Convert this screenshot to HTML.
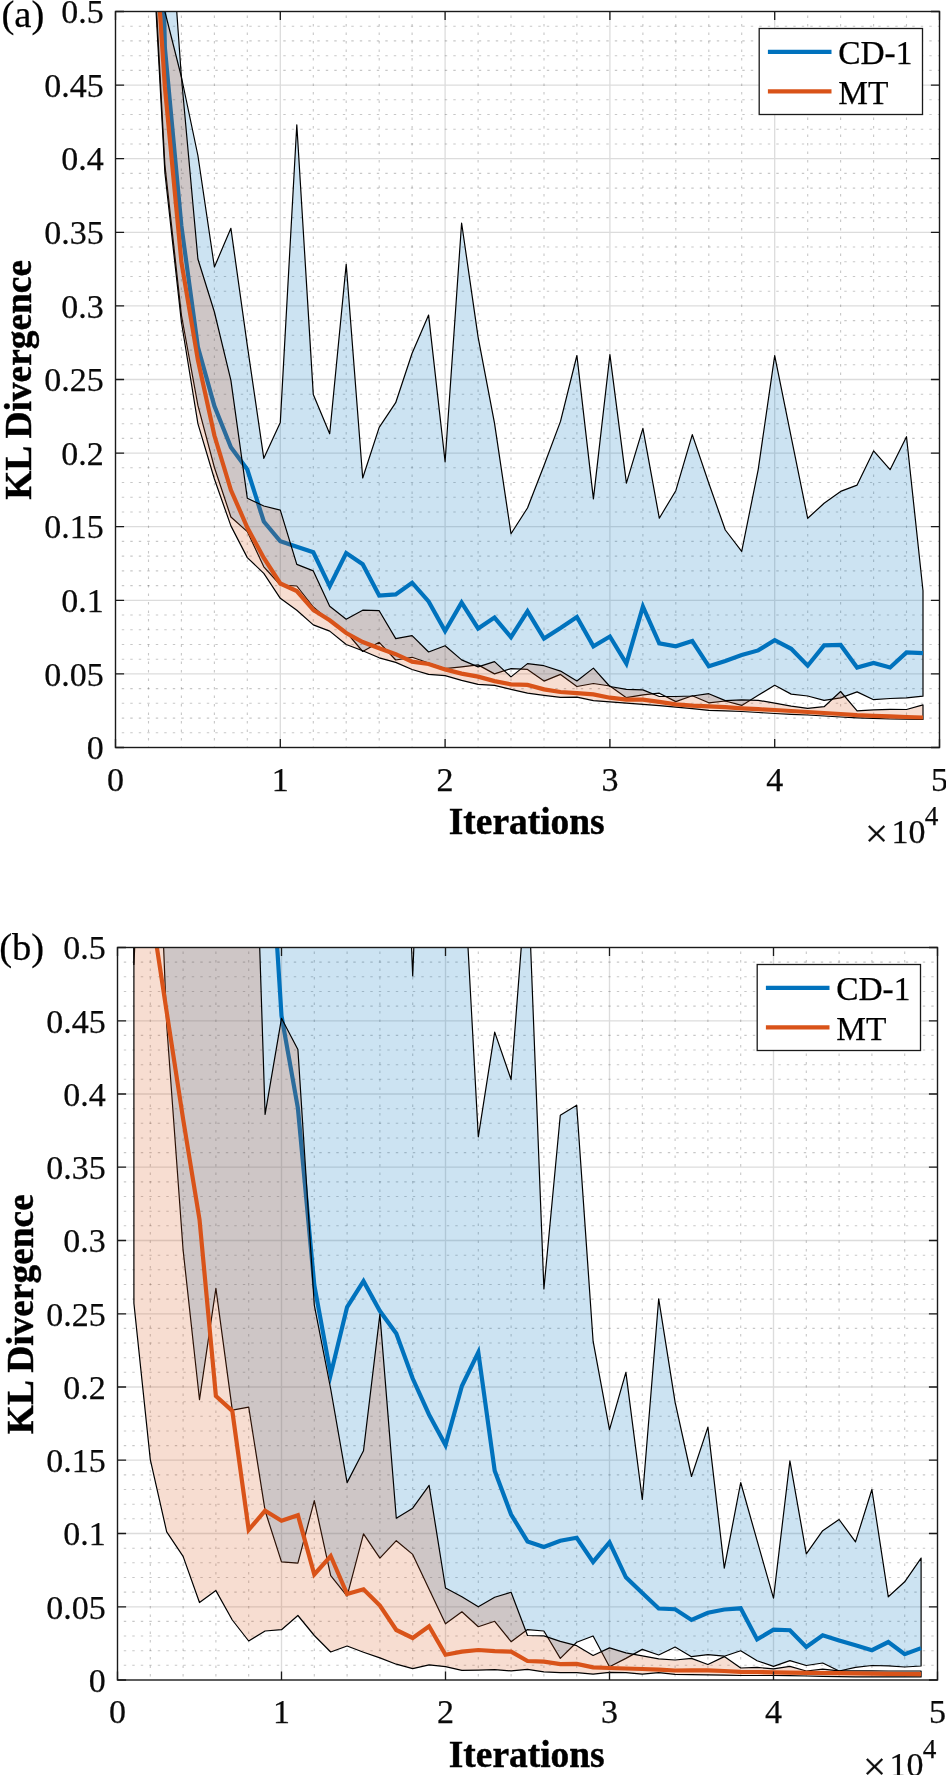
<!DOCTYPE html>
<html lang="en">
<head>
<meta charset="utf-8">
<title>KL Divergence vs Iterations</title>
<style>
html,body{margin:0;padding:0;background:#fff}
body{width:946px;height:1775px;overflow:hidden}
svg{display:block;will-change:transform}
</style>
</head>
<body>
<svg width="946" height="1775" viewBox="0 0 946 1775">
<rect width="946" height="1775" fill="#fff"/>
<clipPath id="clip1"><rect x="115.5" y="11.5" width="824" height="736"/></clipPath>
<path d="M148.5 11.5V747.5M181.4 11.5V747.5M214.4 11.5V747.5M247.3 11.5V747.5M313.3 11.5V747.5M346.2 11.5V747.5M379.2 11.5V747.5M412.1 11.5V747.5M478.1 11.5V747.5M511 11.5V747.5M544 11.5V747.5M576.9 11.5V747.5M642.9 11.5V747.5M675.8 11.5V747.5M708.8 11.5V747.5M741.7 11.5V747.5M807.7 11.5V747.5M840.6 11.5V747.5M873.6 11.5V747.5M906.5 11.5V747.5" fill="none" stroke="#262626" stroke-opacity=".26" stroke-width="1.1" stroke-dasharray="2.4 6.1" stroke-dashoffset="4.5"/>
<path d="M115.5 26.2H939.5M115.5 40.9H939.5M115.5 55.7H939.5M115.5 70.4H939.5M115.5 99.8H939.5M115.5 114.5H939.5M115.5 129.3H939.5M115.5 144H939.5M115.5 173.4H939.5M115.5 188.1H939.5M115.5 202.9H939.5M115.5 217.6H939.5M115.5 247H939.5M115.5 261.7H939.5M115.5 276.5H939.5M115.5 291.2H939.5M115.5 320.6H939.5M115.5 335.3H939.5M115.5 350.1H939.5M115.5 364.8H939.5M115.5 394.2H939.5M115.5 408.9H939.5M115.5 423.7H939.5M115.5 438.4H939.5M115.5 467.8H939.5M115.5 482.5H939.5M115.5 497.3H939.5M115.5 512H939.5M115.5 541.4H939.5M115.5 556.1H939.5M115.5 570.9H939.5M115.5 585.6H939.5M115.5 615H939.5M115.5 629.7H939.5M115.5 644.5H939.5M115.5 659.2H939.5M115.5 688.6H939.5M115.5 703.3H939.5M115.5 718.1H939.5M115.5 732.8H939.5" fill="none" stroke="#262626" stroke-opacity=".26" stroke-width="1.1" stroke-dasharray="2.4 6.1" stroke-dashoffset="2.2"/>
<path d="M280.3 11.5V747.5M445.1 11.5V747.5M609.9 11.5V747.5M774.7 11.5V747.5M115.5 85.1H939.5M115.5 158.7H939.5M115.5 232.3H939.5M115.5 305.9H939.5M115.5 379.5H939.5M115.5 453.1H939.5M115.5 526.7H939.5M115.5 600.3H939.5M115.5 673.9H939.5" fill="none" stroke="#262626" stroke-opacity=".16" stroke-width="1.3"/>
<g clip-path="url(#clip1)" stroke-linejoin="miter" stroke-miterlimit="10">
<polygon points="132,-3000 148.5,-800 164.9,-155 181.4,77 197.9,155.5 214.4,267 230.9,228.3 247.3,345.3 263.8,458.3 280.3,422.4 296.8,124.8 313.3,394.6 329.7,433.8 346.2,264.3 362.7,478 379.2,427.4 395.7,402.7 412.1,353.3 428.6,315.1 445.1,461.8 461.6,223 478.1,337.1 494.5,423.1 511,533.7 527.5,508 544,465.5 560.5,421.4 576.9,355.5 593.4,498.9 609.9,354.7 626.4,483.2 642.9,428.3 659.3,518.2 675.8,490.7 692.3,434.6 708.8,483.2 725.3,530 741.7,551.4 758.2,469.6 774.7,355.6 791.2,437.2 807.7,518.3 824.1,503.3 840.6,491.4 857.1,485.1 873.6,450.9 890.1,469.7 906.5,436.7 923,590.7 923,696.2 906.5,697.9 890.1,698.5 873.6,699.7 857.1,691.9 840.6,697.9 824.1,700.3 807.7,696 791.2,694.1 774.7,685.3 758.2,695.3 741.7,705.4 725.3,701 708.8,702.8 692.3,695.7 675.8,701.6 659.3,693.2 642.9,694.9 626.4,697.7 609.9,686 593.4,683.5 576.9,686.5 560.5,674.4 544,681.1 527.5,669.4 511,668.6 494.5,673.9 478.1,664.9 461.6,666.9 445.1,668.6 428.6,663 412.1,657.3 395.7,660 379.2,642.3 362.7,651.5 346.2,632 329.7,621 313.3,607 296.8,586 280.3,585 263.8,566.8 247.3,531.6 230.9,517 214.4,467.5 197.9,405.4 181.4,315 164.9,165 148.5,-140 132,-3000" fill="#0072bd" fill-opacity=".2" stroke="#000" stroke-width="1.2" stroke-linejoin="round"/>
<polyline points="132,-3000 148.5,-660 164.9,48 181.4,226 197.9,347 214.4,406 230.9,447.3 247.3,469.5 263.8,521.5 280.3,541.3 296.8,546.8 313.3,552.3 329.7,586.3 346.2,553.1 362.7,564.3 379.2,595.5 395.7,594.4 412.1,582.7 428.6,601.4 445.1,631 461.6,602.6 478.1,628.5 494.5,617.6 511,637.2 527.5,611.3 544,638.5 560.5,628 576.9,617 593.4,646.3 609.9,636.5 626.4,663.5 642.9,606.7 659.3,643.4 675.8,646.3 692.3,641 708.8,666.3 725.3,661 741.7,655 758.2,650.4 774.7,640.2 791.2,648.8 807.7,665.7 824.1,645.4 840.6,645 857.1,667.5 873.6,663 890.1,667.5 906.5,652.4 923,653.2" fill="none" stroke="#0072bd" stroke-width="4.2"/>
<polygon points="132,-3000 148.5,-400 164.9,11.5 181.4,77 197.9,259 214.4,312 230.9,380.3 247.3,498.2 263.8,506 280.3,510.2 296.8,564.4 313.3,570.9 329.7,606.2 346.2,619.2 362.7,610.2 379.2,610.7 395.7,638.6 412.1,635.6 428.6,652 445.1,645.7 461.6,659.9 478.1,666.9 494.5,661.6 511,676.9 527.5,663.6 544,665.7 560.5,671.1 576.9,681 593.4,668.1 609.9,686.5 626.4,689.4 642.9,689.9 659.3,696.5 675.8,696.5 692.3,696 708.8,693.7 725.3,700.6 741.7,699.9 758.2,700.3 774.7,703.1 791.2,706.1 807.7,708.4 824.1,706.7 840.6,691.5 857.1,710.8 873.6,709.9 890.1,709.3 906.5,709.5 923,704.8 923,719.4 906.5,719.2 890.1,719 873.6,718.4 857.1,717.8 840.6,717 824.1,716 807.7,715 791.2,714.3 774.7,713.5 758.2,712.5 741.7,711.5 725.3,710.8 708.8,710.3 692.3,708.6 675.8,707.2 659.3,705.6 642.9,704.4 626.4,703.2 609.9,701.9 593.4,700.7 576.9,697.1 560.5,697.3 544,695.3 527.5,693.1 511,689.4 494.5,685.3 478.1,684.4 461.6,680.3 445.1,675.6 428.6,674.4 412.1,669.5 395.7,662.4 379.2,657.8 362.7,650.8 346.2,644.5 329.7,631.1 313.3,624.9 296.8,610.2 280.3,598.3 263.8,573.4 247.3,557.6 230.9,525.9 214.4,479 197.9,423.7 181.4,322 164.9,172.8 148.5,-127 132,-3000" fill="#d95319" fill-opacity=".2" stroke="#000" stroke-width="1.2" stroke-linejoin="round"/>
<polyline points="132,-3000 148.5,-160 164.9,87 181.4,262 197.9,360 214.4,435.5 230.9,490 247.3,527.5 263.8,558 280.3,583.5 296.8,591 313.3,610 329.7,620.3 346.2,633 362.7,642 379.2,648.3 395.7,654.2 412.1,661.7 428.6,664 445.1,669.4 461.6,673.6 478.1,676.6 494.5,681.1 511,684.4 527.5,684.9 544,689.4 560.5,692 576.9,693.2 593.4,694.4 609.9,697.7 626.4,699.7 642.9,699.7 659.3,701.9 675.8,704.4 692.3,705.6 708.8,706.4 725.3,707.2 741.7,708.3 758.2,709.2 774.7,710 791.2,711 807.7,712 824.1,713 840.6,714 857.1,715.2 873.6,715.8 890.1,716.3 906.5,717 923,717.5" fill="none" stroke="#d95319" stroke-width="4.2"/>
</g>
<path d="M115.5 747.5v-8.6M115.5 11.5v8.6M280.3 747.5v-8.6M280.3 11.5v8.6M445.1 747.5v-8.6M445.1 11.5v8.6M609.9 747.5v-8.6M609.9 11.5v8.6M774.7 747.5v-8.6M774.7 11.5v8.6M939.5 747.5v-8.6M939.5 11.5v8.6M115.5 11.5h8.6M939.5 11.5h-8.6M115.5 85.1h8.6M939.5 85.1h-8.6M115.5 158.7h8.6M939.5 158.7h-8.6M115.5 232.3h8.6M939.5 232.3h-8.6M115.5 305.9h8.6M939.5 305.9h-8.6M115.5 379.5h8.6M939.5 379.5h-8.6M115.5 453.1h8.6M939.5 453.1h-8.6M115.5 526.7h8.6M939.5 526.7h-8.6M115.5 600.3h8.6M939.5 600.3h-8.6M115.5 673.9h8.6M939.5 673.9h-8.6M115.5 747.5h8.6M939.5 747.5h-8.6" fill="none" stroke="#1a1a1a" stroke-width="1.3"/>
<rect x="115.5" y="11.5" width="824" height="736" fill="none" stroke="#1a1a1a" stroke-width="1.4"/>
<g font-family="'Liberation Serif',serif" font-size="34" fill="#0a0a0a" stroke="#0a0a0a" stroke-width=".25">
<text x="103.7" y="23.2" text-anchor="end">0.5</text>
<text x="103.7" y="96.8" text-anchor="end">0.45</text>
<text x="103.7" y="170.4" text-anchor="end">0.4</text>
<text x="103.7" y="244" text-anchor="end">0.35</text>
<text x="103.7" y="317.6" text-anchor="end">0.3</text>
<text x="103.7" y="391.2" text-anchor="end">0.25</text>
<text x="103.7" y="464.8" text-anchor="end">0.2</text>
<text x="103.7" y="538.4" text-anchor="end">0.15</text>
<text x="103.7" y="612" text-anchor="end">0.1</text>
<text x="103.7" y="685.6" text-anchor="end">0.05</text>
<text x="103.7" y="759.2" text-anchor="end">0</text>
<text x="115.5" y="790.8" text-anchor="middle">0</text>
<text x="280.3" y="790.8" text-anchor="middle">1</text>
<text x="445.1" y="790.8" text-anchor="middle">2</text>
<text x="609.9" y="790.8" text-anchor="middle">3</text>
<text x="774.7" y="790.8" text-anchor="middle">4</text>
<text x="939.5" y="790.8" text-anchor="middle">5</text>
<text x="865" y="847.4" font-size="41">×</text>
<text x="891.5" y="843">10</text>
<text x="924.8" y="825.2" font-size="27.2">4</text>
</g>
<g font-family="'Liberation Serif',serif" font-size="37.4" font-weight="bold" fill="#000" stroke="#000" stroke-width=".45">
<text x="526.7" y="834" text-anchor="middle">Iterations</text>
<text transform="translate(30.5 379.9) rotate(-90)" text-anchor="middle">KL Divergence</text>
</g>
<text x="1.5" y="27" font-family="'Liberation Serif',serif" font-size="38.6" fill="#000" stroke="#000" stroke-width=".25">(a)</text>
<rect x="759.2" y="28.5" width="163.3" height="86" fill="#fff" stroke="#1a1a1a" stroke-width="1.3"/>
<path d="M767.9 51.8h63.6" stroke="#0072bd" stroke-width="4.2" fill="none"/>
<path d="M767.9 91.4h63.6" stroke="#d95319" stroke-width="4.2" fill="none"/>
<g font-family="'Liberation Serif',serif" font-size="33.4" fill="#000" stroke="#000" stroke-width=".25">
<text x="838.2" y="63.9">CD-1</text>
<text x="838.2" y="103.7">MT</text>
</g>
<clipPath id="clip2"><rect x="117.5" y="947.5" width="820" height="732.5"/></clipPath>
<path d="M150.3 947.5V1680M183.1 947.5V1680M215.9 947.5V1680M248.7 947.5V1680M314.3 947.5V1680M347.1 947.5V1680M379.9 947.5V1680M412.7 947.5V1680M478.3 947.5V1680M511.1 947.5V1680M543.9 947.5V1680M576.7 947.5V1680M642.3 947.5V1680M675.1 947.5V1680M707.9 947.5V1680M740.7 947.5V1680M806.3 947.5V1680M839.1 947.5V1680M871.9 947.5V1680M904.7 947.5V1680" fill="none" stroke="#262626" stroke-opacity=".26" stroke-width="1.1" stroke-dasharray="2.4 6.1" stroke-dashoffset="4.5"/>
<path d="M117.5 962.1H937.5M117.5 976.8H937.5M117.5 991.5H937.5M117.5 1006.1H937.5M117.5 1035.4H937.5M117.5 1050H937.5M117.5 1064.7H937.5M117.5 1079.3H937.5M117.5 1108.7H937.5M117.5 1123.3H937.5M117.5 1138H937.5M117.5 1152.6H937.5M117.5 1181.9H937.5M117.5 1196.5H937.5M117.5 1211.2H937.5M117.5 1225.8H937.5M117.5 1255.2H937.5M117.5 1269.8H937.5M117.5 1284.5H937.5M117.5 1299.1H937.5M117.5 1328.4H937.5M117.5 1343H937.5M117.5 1357.7H937.5M117.5 1372.3H937.5M117.5 1401.7H937.5M117.5 1416.3H937.5M117.5 1431H937.5M117.5 1445.6H937.5M117.5 1474.9H937.5M117.5 1489.5H937.5M117.5 1504.2H937.5M117.5 1518.8H937.5M117.5 1548.2H937.5M117.5 1562.8H937.5M117.5 1577.5H937.5M117.5 1592.1H937.5M117.5 1621.4H937.5M117.5 1636H937.5M117.5 1650.7H937.5M117.5 1665.3H937.5" fill="none" stroke="#262626" stroke-opacity=".26" stroke-width="1.1" stroke-dasharray="2.4 6.1" stroke-dashoffset="2.2"/>
<path d="M281.5 947.5V1680M445.5 947.5V1680M609.5 947.5V1680M773.5 947.5V1680M117.5 1020.8H937.5M117.5 1094H937.5M117.5 1167.2H937.5M117.5 1240.5H937.5M117.5 1313.8H937.5M117.5 1387H937.5M117.5 1460.2H937.5M117.5 1533.5H937.5M117.5 1606.8H937.5" fill="none" stroke="#262626" stroke-opacity=".16" stroke-width="1.3"/>
<g clip-path="url(#clip2)" stroke-linejoin="miter" stroke-miterlimit="10">
<polygon points="133.9,300 150.3,300 166.7,300 183.1,300 199.5,300 215.9,300 232.3,300 248.7,300 265.1,300 281.5,300 297.9,300 314.3,300 330.7,300 347.1,300 363.5,300 379.9,300 396.3,566 412.7,975.9 429.1,566 445.5,700 461.9,835 478.3,1136.8 494.7,1032.1 511.1,1079.5 527.5,866 543.9,1289 560.3,1115.3 576.7,1105.2 593.1,1341.2 609.5,1429.6 625.9,1372.3 642.3,1499.5 658.7,1298.8 675.1,1402.2 691.5,1476.5 707.9,1427.1 724.3,1568.1 740.7,1482.5 757.1,1540.7 773.5,1598.1 789.9,1460.8 806.3,1553.9 822.7,1530.7 839.1,1519.5 855.5,1541.9 871.9,1489.5 888.3,1596.8 904.7,1581.8 921.1,1558.1 921.1,1666 904.7,1667 888.3,1665.9 871.9,1665.5 855.5,1667.3 839.1,1671 822.7,1663 806.3,1665.5 789.9,1660.6 773.5,1666.4 757.1,1660.8 740.7,1650.8 724.3,1656.2 707.9,1654.6 691.5,1656.7 675.1,1647 658.7,1655 642.3,1649.4 625.9,1658.4 609.5,1666.8 593.1,1636 576.7,1642.3 560.3,1658.4 543.9,1631 527.5,1629.6 511.1,1641.7 494.7,1621.3 478.3,1626.7 461.9,1611.8 445.5,1623.8 429.1,1589.3 412.7,1554.4 396.3,1540.7 379.9,1558.1 363.5,1533.9 347.1,1596.2 330.7,1575.6 314.3,1500.7 297.9,1563.1 281.5,1561.9 265.1,1510.7 248.7,1407.2 232.3,1410.2 215.9,1288.3 199.5,1399.7 183.1,1250 166.7,1025 150.3,612 133.9,964.5" fill="#0072bd" fill-opacity=".2" stroke="#000" stroke-width="1.2" stroke-linejoin="round"/>
<polyline points="133.9,-3000 150.3,-2500 166.7,-2000 183.1,-1500 199.5,-1000 215.9,-500 232.3,0 248.7,400 265.1,755 281.5,1015.8 297.9,1108.2 314.3,1285.1 330.7,1374.4 347.1,1307 363.5,1281.2 379.9,1311.1 396.3,1333.6 412.7,1378.5 429.1,1414.7 445.5,1445.1 461.9,1386 478.3,1352.3 494.7,1470.8 511.1,1514.5 527.5,1541.4 543.9,1546.9 560.3,1540.7 576.7,1537.7 593.1,1561.9 609.5,1542.4 625.9,1577.3 642.3,1593.1 658.7,1608.5 675.1,1609.2 691.5,1619.9 707.9,1612.8 724.3,1609.5 740.7,1608.3 757.1,1639.4 773.5,1629.7 789.9,1630.2 806.3,1646.9 822.7,1635.3 839.1,1640.4 855.5,1645.3 871.9,1650.2 888.3,1642 904.7,1654.1 921.1,1648.1" fill="none" stroke="#0072bd" stroke-width="4.2"/>
<polygon points="133.9,300 150.3,300 166.7,300 183.1,300 199.5,300 215.9,300 232.3,300 248.7,607.6 265.1,1114.4 281.5,1018.3 297.9,1049.5 314.3,1305.1 330.7,1389 347.1,1482.6 363.5,1450.8 379.9,1314.4 396.3,1518.2 412.7,1508.2 429.1,1485.3 445.5,1588 461.9,1596.8 478.3,1606.8 494.7,1597.3 511.1,1592.3 527.5,1635.5 543.9,1635.9 560.3,1641.4 576.7,1645.7 593.1,1655.5 609.5,1647.9 625.9,1652.9 642.3,1655.8 658.7,1658.9 675.1,1660 691.5,1658.4 707.9,1664.5 724.3,1656.6 740.7,1668 757.1,1667.4 773.5,1668.8 789.9,1666.4 806.3,1671 822.7,1669.2 839.1,1670.8 855.5,1670.8 871.9,1670.9 888.3,1671 904.7,1671 921.1,1671 921.1,1676.9 904.7,1676.9 888.3,1676.9 871.9,1676.9 855.5,1676.8 839.1,1676.6 822.7,1676.3 806.3,1676 789.9,1675.6 773.5,1675.5 757.1,1675.5 740.7,1675.5 724.3,1675.2 707.9,1674.9 691.5,1674.6 675.1,1674.4 658.7,1672.7 642.3,1674.1 625.9,1672.7 609.5,1672.4 593.1,1674.1 576.7,1672.7 560.3,1672.6 543.9,1671.8 527.5,1669.4 511.1,1670.9 494.7,1669.7 478.3,1670.2 461.9,1670.4 445.5,1666.7 429.1,1664.9 412.7,1668.7 396.3,1664.2 379.9,1657.9 363.5,1652.2 347.1,1646 330.7,1652 314.3,1635.5 297.9,1615.5 281.5,1629.7 265.1,1631 248.7,1641 232.3,1620 215.9,1590.6 199.5,1602.5 183.1,1556.4 166.7,1531.9 150.3,1459.6 133.9,1303.3" fill="#d95319" fill-opacity=".2" stroke="#000" stroke-width="1.2" stroke-linejoin="round"/>
<polyline points="133.9,600 150.3,904 166.7,1012 183.1,1119 199.5,1219.4 215.9,1396 232.3,1410.9 248.7,1529.9 265.1,1510.7 281.5,1520.7 297.9,1515.2 314.3,1574.4 330.7,1556 347.1,1594 363.5,1589.3 379.9,1605.5 396.3,1630 412.7,1638 429.1,1626.2 445.5,1654.7 461.9,1651.7 478.3,1650 494.7,1651.2 511.1,1651.7 527.5,1661 543.9,1661.7 560.3,1664.2 576.7,1663.9 593.1,1667.3 609.5,1668 625.9,1668.5 642.3,1669 658.7,1669.7 675.1,1670.5 691.5,1670.4 707.9,1670.3 724.3,1671 740.7,1671.8 757.1,1672 773.5,1672.3 789.9,1672.6 806.3,1672.9 822.7,1673 839.1,1673.2 855.5,1673.4 871.9,1673.6 888.3,1673.8 904.7,1674 921.1,1674.1" fill="none" stroke="#d95319" stroke-width="4.2"/>
</g>
<path d="M117.5 1680v-8.6M117.5 947.5v8.6M281.5 1680v-8.6M281.5 947.5v8.6M445.5 1680v-8.6M445.5 947.5v8.6M609.5 1680v-8.6M609.5 947.5v8.6M773.5 1680v-8.6M773.5 947.5v8.6M937.5 1680v-8.6M937.5 947.5v8.6M117.5 947.5h8.6M937.5 947.5h-8.6M117.5 1020.8h8.6M937.5 1020.8h-8.6M117.5 1094h8.6M937.5 1094h-8.6M117.5 1167.2h8.6M937.5 1167.2h-8.6M117.5 1240.5h8.6M937.5 1240.5h-8.6M117.5 1313.8h8.6M937.5 1313.8h-8.6M117.5 1387h8.6M937.5 1387h-8.6M117.5 1460.2h8.6M937.5 1460.2h-8.6M117.5 1533.5h8.6M937.5 1533.5h-8.6M117.5 1606.8h8.6M937.5 1606.8h-8.6M117.5 1680h8.6M937.5 1680h-8.6" fill="none" stroke="#1a1a1a" stroke-width="1.3"/>
<rect x="117.5" y="947.5" width="820" height="732.5" fill="none" stroke="#1a1a1a" stroke-width="1.4"/>
<g font-family="'Liberation Serif',serif" font-size="34" fill="#0a0a0a" stroke="#0a0a0a" stroke-width=".25">
<text x="105.7" y="959.2" text-anchor="end">0.5</text>
<text x="105.7" y="1032.5" text-anchor="end">0.45</text>
<text x="105.7" y="1105.7" text-anchor="end">0.4</text>
<text x="105.7" y="1179" text-anchor="end">0.35</text>
<text x="105.7" y="1252.2" text-anchor="end">0.3</text>
<text x="105.7" y="1325.5" text-anchor="end">0.25</text>
<text x="105.7" y="1398.7" text-anchor="end">0.2</text>
<text x="105.7" y="1472" text-anchor="end">0.15</text>
<text x="105.7" y="1545.2" text-anchor="end">0.1</text>
<text x="105.7" y="1618.5" text-anchor="end">0.05</text>
<text x="105.7" y="1691.7" text-anchor="end">0</text>
<text x="117.5" y="1723.3" text-anchor="middle">0</text>
<text x="281.5" y="1723.3" text-anchor="middle">1</text>
<text x="445.5" y="1723.3" text-anchor="middle">2</text>
<text x="609.5" y="1723.3" text-anchor="middle">3</text>
<text x="773.5" y="1723.3" text-anchor="middle">4</text>
<text x="937.5" y="1723.3" text-anchor="middle">5</text>
<text x="863" y="1779.9" font-size="41">×</text>
<text x="889.5" y="1775.5">10</text>
<text x="922.8" y="1757.7" font-size="27.2">4</text>
</g>
<g font-family="'Liberation Serif',serif" font-size="37.4" font-weight="bold" fill="#000" stroke="#000" stroke-width=".45">
<text x="526.7" y="1766.5" text-anchor="middle">Iterations</text>
<text transform="translate(32.5 1314.2) rotate(-90)" text-anchor="middle">KL Divergence</text>
</g>
<text x="-0.8" y="960" font-family="'Liberation Serif',serif" font-size="38.6" fill="#000" stroke="#000" stroke-width=".25">(b)</text>
<rect x="757.2" y="964.5" width="163.3" height="86" fill="#fff" stroke="#1a1a1a" stroke-width="1.3"/>
<path d="M765.9 987.8h63.6" stroke="#0072bd" stroke-width="4.2" fill="none"/>
<path d="M765.9 1027.4h63.6" stroke="#d95319" stroke-width="4.2" fill="none"/>
<g font-family="'Liberation Serif',serif" font-size="33.4" fill="#000" stroke="#000" stroke-width=".25">
<text x="836.2" y="999.9">CD-1</text>
<text x="836.2" y="1039.7">MT</text>
</g>
</svg>
</body>
</html>
